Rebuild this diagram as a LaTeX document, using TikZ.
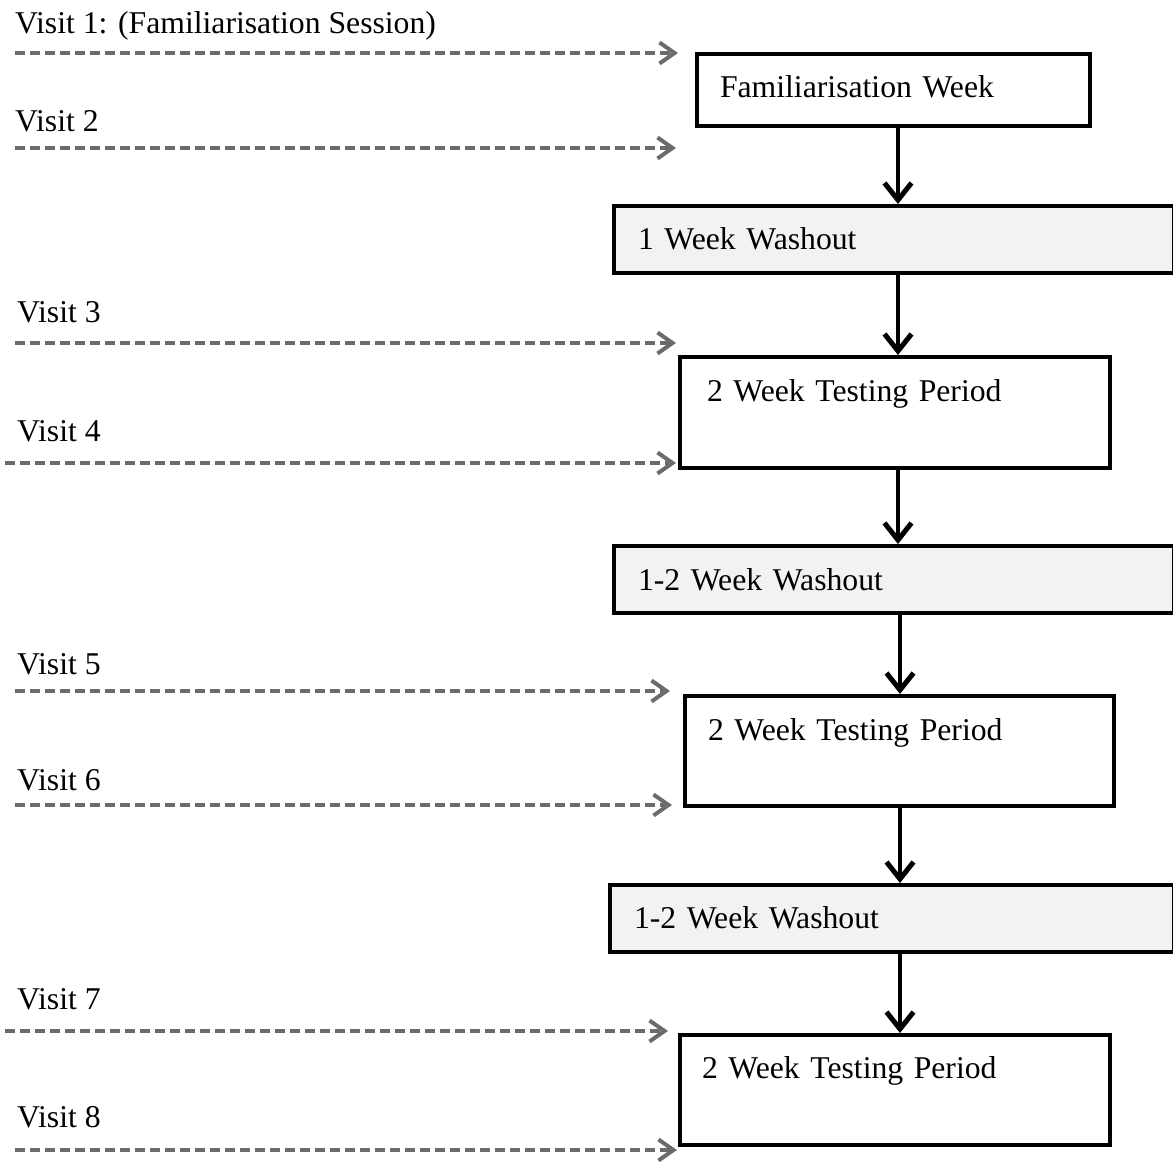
\documentclass[tikz,border=0pt]{standalone}
\usepackage{fontspec}
\setmainfont{Liberation Serif}
\usetikzlibrary{arrows.meta}
\definecolor{dashgray}{HTML}{6B6B6B}
\definecolor{washfill}{HTML}{F2F2F2}
\begin{document}
\begin{tikzpicture}[x=1pt,y=-1pt,
  every node/.style={font=\fontsize{31.7}{38}\selectfont},
  box/.style={draw=black, line width=4pt, anchor=north west, align=left, inner ysep=0pt},
  testbox/.style={box, fill=white},
  washbox/.style={box, fill=washfill},
  flow/.style={line width=4pt, -{Straight Barb[length=17pt,width=27pt,line width=5pt]}},
  visit/.style={draw=dashgray, line width=3.2pt, dash pattern=on 10pt off 5pt,
    -{Straight Barb[length=15pt,width=21pt,line width=4pt]}},
  vlabel/.style={anchor=base west, inner sep=0pt}]
\useasboundingbox (0,0) rectangle (1173,1162);

% boxes
\node[testbox, inner xsep=23pt, text width=347pt, text height=43pt, text depth=29pt] (b1) at (695,52) {Familiarisation Week};
\node[washbox, inner xsep=24pt, text width=512pt, text height=43pt, text depth=24pt] (b2) at (612,204) {1 Week Washout};
\node[testbox, inner xsep=27pt, text width=376pt, text height=44pt, text depth=67pt] (b3) at (678,355) {2 Week Testing Period};
\node[washbox, inner xsep=24pt, text width=512pt, text height=44pt, text depth=23pt] (b4) at (612,544) {1-2 Week Washout};
\node[testbox, inner xsep=23pt, text width=383pt, text height=44pt, text depth=66pt] (b5) at (683,694) {2 Week Testing Period};
\node[washbox, inner xsep=24pt, text width=516pt, text height=43pt, text depth=24pt] (b6) at (608,883) {1-2 Week Washout};
\node[testbox, inner xsep=22pt, text width=386pt, text height=43pt, text depth=67pt] (b7) at (678,1033) {2 Week Testing Period};

% flow arrows
\coordinate (ax1) at (898,0);
\coordinate (ax2) at (900,0);
\draw[flow] (b1.south -| ax1) -- (b2.north -| ax1);
\draw[flow] (b2.south -| ax1) -- (b3.north -| ax1);
\draw[flow] (b3.south -| ax1) -- (b4.north -| ax1);
\draw[flow] (b4.south -| ax2) -- (b5.north -| ax2);
\draw[flow] (b5.south -| ax2) -- (b6.north -| ax2);
\draw[flow] (b6.south -| ax2) -- (b7.north -| ax2);

% visit labels
\node[vlabel] (l1) at (15,33) {Visit 1: (Familiarisation Session)};
\node[vlabel] (l2) at (15,131) {Visit 2};
\node[vlabel] (l3) at (17,322) {Visit 3};
\node[vlabel] (l4) at (17,441) {Visit 4};
\node[vlabel] (l5) at (17,674) {Visit 5};
\node[vlabel] (l6) at (17,790) {Visit 6};
\node[vlabel] (l7) at (17,1009) {Visit 7};
\node[vlabel] (l8) at (17,1127) {Visit 8};

% visit arrows
\coordinate (s1) at (15,53);   \coordinate (e1) at (678,53);
\coordinate (s2) at (15,148);  \coordinate (e2) at (676,148);
\coordinate (s3) at (15,343);  \coordinate (e3) at (676,343);
\coordinate (s4) at (5,463);   \coordinate (e4) at (676,463);
\coordinate (s5) at (15,691);  \coordinate (e5) at (670,691);
\coordinate (s6) at (15,805);  \coordinate (e6) at (672,805);
\coordinate (s7) at (5,1031);  \coordinate (e7) at (668,1031);
\coordinate (s8) at (15,1150); \coordinate (e8) at (677,1150);
\foreach \i in {1,...,8} {\draw[visit] (s\i) -- (e\i);}
\end{tikzpicture}
\end{document}
